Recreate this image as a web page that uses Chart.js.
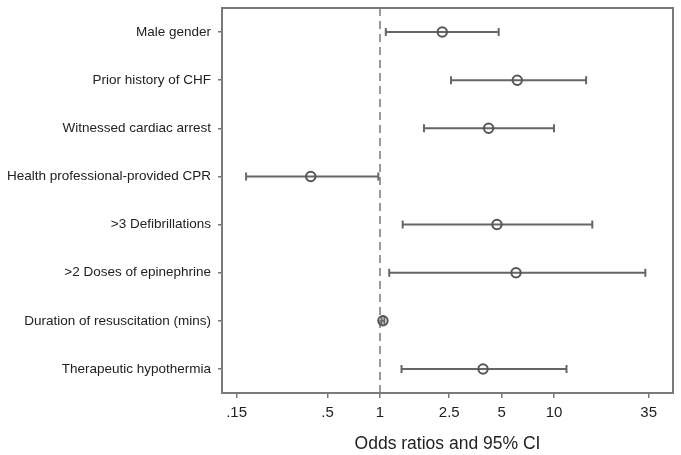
<!DOCTYPE html>
<html>
<head>
<meta charset="utf-8">
<script src="https://cdn.jsdelivr.net/npm/chart.js@4.4.0/dist/chart.umd.min.js"></script>
<style>
  body { margin: 0; background: #fff; }
  canvas { display: block; }
</style>
</head>
<body>
<canvas id="forest" width="681" height="455"></canvas>
<script>
// predictors, top to bottom
var predictors = ['Male gender', 'Prior history of CHF', 'Witnessed cardiac arrest',
    'Health professional-provided CPR', '>3 Defibrillations', '>2 Doses of epinephrine',
    'Duration of resuscitation (mins)', 'Therapeutic hypothermia'];
var oddsRatio = [2.28, 6.15, 4.21, 0.40, 4.70, 6.05, 1.04, 3.91];
var ciLower = [1.08, 2.56, 1.79, 0.170, 1.35, 1.13, 1.02, 1.33];
var ciUpper = [4.81, 15.3, 10.0, 0.978, 16.6, 33.5, 1.06, 11.8];
var tickValues = [0.15, 0.5, 1, 2.5, 5, 10, 35];
var tickLabels = ['.15', '.5', '1', '2.5', '5', '10', '35'];

var FONT = "'Liberation Sans', Arial, Helvetica, sans-serif";

// whiskers, reference line and frame
var forestExtras = {
    id: 'forestExtras',
    beforeDatasetsDraw: function (chart) {
        var c = chart.ctx, xs = chart.scales.x, ys = chart.scales.y, a = chart.chartArea;
        c.save();
        // dashed null line at OR = 1
        c.strokeStyle = '#999';
        c.lineWidth = 2;
        c.setLineDash([8, 5]);
        var x1 = xs.getPixelForValue(1);
        c.beginPath();
        c.moveTo(x1, a.top);
        c.lineTo(x1, a.bottom);
        c.stroke();
        c.setLineDash([]);
        // CI whiskers
        c.strokeStyle = '#666';
        c.lineWidth = 2;
        for (var i = 0; i < predictors.length; i++) {
            var y = ys.getPixelForValue(i);
            var xl = xs.getPixelForValue(ciLower[i]);
            var xh = xs.getPixelForValue(ciUpper[i]);
            c.beginPath();
            c.moveTo(xl, y); c.lineTo(xh, y);
            c.moveTo(xl, y - 4); c.lineTo(xl, y + 4);
            c.moveTo(xh, y - 4); c.lineTo(xh, y + 4);
            c.stroke();
        }
        c.restore();
    },
    afterDraw: function (chart) {
        var c = chart.ctx, a = chart.chartArea;
        c.save();
        c.strokeStyle = '#7a7a7a';
        c.lineWidth = 2;
        c.strokeRect(a.left, a.top, a.right - a.left, a.bottom - a.top);
        c.restore();
    }
};

var points = predictors.map(function (p, i) { return { x: oddsRatio[i], y: p }; });

new Chart(document.getElementById('forest').getContext('2d'), {
    type: 'scatter',
    data: {
        datasets: [{
            data: points,
            pointRadius: 4.7,
            pointHoverRadius: 4.7,
            pointBorderWidth: 2,
            borderColor: '#555',
            backgroundColor: 'rgba(255,255,255,0)'
        }]
    },
    plugins: [forestExtras],
    options: {
        responsive: false,
        animation: false,
        layout: { autoPadding: false, padding: { top: 8, right: 8, left: 0, bottom: 0 } },
        plugins: {
            legend: { display: false },
            tooltip: { enabled: false }
        },
        scales: {
            x: {
                type: 'logarithmic',
                min: 0.1236,
                max: 48.3,
                afterBuildTicks: function (scale) {
                    scale.ticks = tickValues.map(function (v) { return { value: v }; });
                },
                afterFit: function (scale) {
                    scale.height = 62;
                    scale.paddingLeft = 0; scale.paddingRight = 0;
                },
                ticks: {
                    autoSkip: false,
                    maxRotation: 0,
                    padding: 6,
                    color: '#222',
                    font: { family: FONT, size: 15 },
                    callback: function (v) {
                        var k = tickValues.indexOf(v);
                        return k >= 0 ? tickLabels[k] : '';
                    }
                },
                grid: { drawOnChartArea: false, drawTicks: true, tickLength: 5, color: '#777', lineWidth: 1.5 },
                border: { display: false },
                title: {
                    display: true,
                    text: 'Odds ratios and 95% CI',
                    color: '#222',
                    font: { family: FONT, size: 17.5 },
                    padding: { top: 6, bottom: 0 }
                }
            },
            y: {
                type: 'category',
                labels: predictors,
                offset: true,
                afterFit: function (scale) {
                    scale.width = 222;
                    scale.paddingTop = 0; scale.paddingBottom = 0;
                },
                ticks: {
                    padding: 7,
                    color: '#222',
                    font: { family: FONT, size: 13.5 }
                },
                grid: { offset: false, drawOnChartArea: false, drawTicks: true, tickLength: 4, color: '#777', lineWidth: 1.5 },
                border: { display: false }
            }
        }
    }
});
</script>
</body>
</html>
